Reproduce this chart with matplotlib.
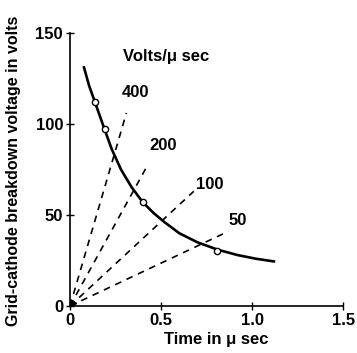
import matplotlib.pyplot as plt

# ---------------------------------------------
# Data
# ---------------------------------------------

# breakdown curve (time in usec, volts)
curve_t = [0.077, 0.105, 0.137, 0.19, 0.23, 0.28, 0.34, 0.40, 0.46, 0.52, 0.60, 0.70, 0.81, 0.92, 1.02, 1.12]
curve_v = [131, 121, 112, 97, 86, 75, 65, 57, 51, 46, 40, 35, 31, 28, 26, 24.5]

# measured points (open circles)
point_t = [0.137, 0.19, 0.40, 0.81]
point_v = [112, 97, 57, 30]

# rate-of-rise lines: label, end time, end voltage
rate_labels = ["400", "200", "100", "50"]
rate_end_t = [0.31, 0.43, 0.68, 0.87]
rate_end_v = [106, 78, 63, 41]
label_t = [0.36, 0.51, 0.77, 0.92]
label_v = [117, 88, 67, 47]

plt.rcParams["font.family"] = ["Liberation Sans", "DejaVu Sans"]
plt.rcParams["font.weight"] = "bold"
plt.rcParams["axes.labelweight"] = "bold"

fig = plt.figure(figsize=(3.57, 3.53), dpi=100)
ax = fig.add_axes([0.196, 0.133, 0.765, 0.774])

for lab, te, ve, lt, lv in zip(rate_labels, rate_end_t, rate_end_v, label_t, label_v):
    ax.plot([0, te], [0, ve], color="black", lw=1.2, dashes=(4, 3.5))
    ax.text(lt, lv, lab, fontsize=12, ha="center", va="center")

ax.plot(curve_t, curve_v, color="black", lw=1.9)
ax.plot(point_t, point_v, "o", ms=4.5, mfc="white", mec="black", mew=1)
ax.plot([0.012], [1.5], marker=(3, 0, 30), ms=6, color="black")

ax.text(0.53, 137, "Volts/μ sec", fontsize=12, ha="center", va="center")

ax.set_xlim(0, 1.5)
ax.set_ylim(0, 150)
ax.set_xticks([0, 0.5, 1.0, 1.5])
ax.set_xticklabels(["0", "0.5", "1.0", "1.5"])
ax.set_yticks([0, 50, 100, 150])
ax.tick_params(direction="inout", length=6, width=1, labelsize=12, pad=2)
ax.spines["top"].set_visible(False)
ax.spines["right"].set_visible(False)
ax.spines["left"].set_linewidth(1.2)
ax.spines["bottom"].set_linewidth(1.2)
ax.set_xlabel("Time in μ sec", fontsize=12)
ax.set_ylabel("Grid-cathode breakdown voltage in volts", fontsize=11.5)
ax.xaxis.set_label_coords(0.535, -0.095)
ax.yaxis.set_label_coords(-0.18, 0.495)

fig.savefig("out.png", dpi=100)
